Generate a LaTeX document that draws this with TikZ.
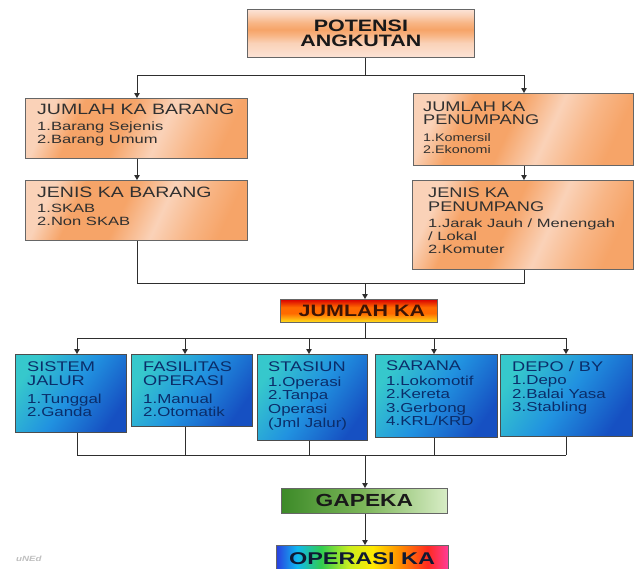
\documentclass[tikz,border=0pt]{standalone}
\usepackage{fontspec}
\setmainfont{Liberation Sans}
\newfontfamily\ftA[FakeStretch=1.30]{Liberation Sans}
\newfontfamily\ftB[FakeStretch=1.38]{Liberation Sans}
\usetikzlibrary{arrows.meta}

\definecolor{pchA}{HTML}{FCE3D6}
\definecolor{pchB}{HTML}{FAD2B8}
\definecolor{orgA}{HTML}{F6A468}
\definecolor{orgB}{HTML}{F8B585}
\definecolor{otxt}{HTML}{303030}
\definecolor{blA}{HTML}{36C8CC}
\definecolor{blB}{HTML}{2192E0}
\definecolor{blC}{HTML}{1650C2}
\definecolor{btxt}{HTML}{0B2D6A}
\definecolor{fireR}{HTML}{D80000}
\definecolor{fireO}{HTML}{FF6A00}
\definecolor{fireY}{HTML}{FFE21A}
\definecolor{grA}{HTML}{3C8A28}
\definecolor{grB}{HTML}{7DB65A}
\definecolor{grC}{HTML}{D8EDC6}
\definecolor{rbA}{HTML}{2A3FE0}
\definecolor{rbB}{HTML}{10B8F0}
\definecolor{rbC}{HTML}{30CC50}
\definecolor{rbD}{HTML}{C8EE20}
\definecolor{rbE}{HTML}{FFE800}
\definecolor{rbF}{HTML}{FF8C00}
\definecolor{rbG}{HTML}{FF2A20}
\definecolor{rbH}{HTML}{FF3C9A}
\definecolor{lnc}{HTML}{2E2E2E}

\pgfdeclarehorizontalshading{peach}{100bp}{color(0bp)=(pchB); color(25bp)=(pchB); color(33bp)=(orgA); color(46bp)=(orgA); color(57bp)=(pchB); color(67bp)=(orgB); color(75bp)=(orgA); color(100bp)=(orgA)}
\pgfdeclareverticalshading{peachv}{100bp}{color(0bp)=(pchA); color(25bp)=(pchA); color(40bp)=(pchB); color(48bp)=(orgB); color(54bp)=(orgA); color(61bp)=(orgB); color(69bp)=(pchB); color(75bp)=(pchA); color(100bp)=(pchA)}
\pgfdeclarehorizontalshading{bluesh}{100bp}{color(0bp)=(blA); color(25bp)=(blA); color(50bp)=(blB); color(75bp)=(blC); color(100bp)=(blC)}
\pgfdeclareverticalshading{firesh}{100bp}{color(0bp)=(fireY); color(25bp)=(fireY); color(45bp)=(fireO); color(58bp)=(fireO); color(75bp)=(fireR); color(100bp)=(fireR)}
\pgfdeclarehorizontalshading{greensh}{100bp}{color(0bp)=(grA); color(25bp)=(grA); color(50bp)=(grB); color(75bp)=(grC); color(100bp)=(grC)}
\pgfdeclarehorizontalshading{rainbow}{100bp}{color(0bp)=(rbA); color(25bp)=(rbA); color(31bp)=(rbB); color(38bp)=(rbC); color(46bp)=(rbD); color(53bp)=(rbE); color(61bp)=(rbF); color(69bp)=(rbG); color(75bp)=(rbH); color(100bp)=(rbH)}

\tikzset{
  boxbase/.style={rectangle, inner sep=0pt, anchor=north west, line width=0.8pt},
  obox/.style={boxbase, draw=black!60, shading=peach, shading angle=-25},
  bbox/.style={boxbase, draw=black!70, shading=bluesh, shading angle=-35},
  otitle/.style={anchor=north west, inner sep=0pt, align=left, text=otxt, font={\ftA\fontsize{15}{13.5}\selectfont}},
  oitem/.style={anchor=north west, inner sep=0pt, align=left, text=otxt, font={\ftB\fontsize{12}{13}\selectfont}},
  btitle/.style={anchor=north west, inner sep=0pt, align=left, text=btxt, font={\ftA\fontsize{14}{13.3}\selectfont}},
  bitem/.style={anchor=north west, inner sep=0pt, align=left, text=btxt, font={\ftA\fontsize{13}{13.4}\selectfont}},
  conn/.style={draw=lnc, line width=0.9pt},
  arr/.style={conn, -{Triangle[length=5pt,width=5.5pt]}}
}

\begin{document}
\begin{tikzpicture}[x=1pt, y=-1pt]
\clip (0,0) rectangle (636,568);
\fill[white] (0,0) rectangle (636,568);

% top box
\node[boxbase, draw=black!60, shading=peachv, minimum width=227, minimum height=48] (pot) at (247,9) {};
\node[inner sep=0pt, align=center, text=black!90, font={\ftA\bfseries\fontsize{16.5}{15.5}\selectfont}] (pottxt) at (pot.center) {POTENSI\\ANGKUTAN};

% orange boxes
\node[obox, minimum width=222, minimum height=60] (jkb) at (25,98) {};
\node[otitle] (jkbt) at (37,104) {JUMLAH KA BARANG};
\node[oitem] (jkbi) at (37,121.5) {1.Barang Sejenis\\2.Barang Umum};

\node[obox, minimum width=222, minimum height=60] (jekb) at (25,180) {};
\node[otitle] (jekbt) at (37,187) {JENIS KA BARANG};
\node[oitem] (jekbi) at (37,203.5) {1.SKAB\\2.Non SKAB};

\node[obox, minimum width=220, minimum height=72] (jkp) at (413,93) {};
\node[otitle, font={\ftA\fontsize{14}{13}\selectfont}] (jkpt) at (423,102) {JUMLAH KA\\PENUMPANG};
\node[oitem, font={\ftA\fontsize{11}{12}\selectfont}] (jkpi) at (423,133.2) {1.Komersil\\2.Ekonomi};

\node[obox, minimum width=221, minimum height=89] (jekp) at (412,180) {};
\node[otitle, font={\ftA\fontsize{14}{14}\selectfont}] (jekpt) at (428,188) {JENIS KA\\PENUMPANG};
\node[oitem, font={\ftB\fontsize{12}{13}\selectfont}] (jekpi) at (428,218.5) {1.Jarak Jauh / Menengah\\/ Lokal\\2.Komuter};

% JUMLAH KA
\node[boxbase, draw=black!60, shading=firesh, minimum width=157, minimum height=23] (jka) at (280,299) {};
\node[inner sep=0pt, text={rgb,255:red,60;green,20;blue,5}, font={\ftA\bfseries\fontsize{16.5}{16}\selectfont}] (jkat) at ([xshift=3pt]jka.center) {JUMLAH KA};

% blue boxes
\node[bbox, minimum width=111, minimum height=78] (sj) at (15,354) {};
\node[btitle] (sjt) at (27,362) {SISTEM\\JALUR};
\node[bitem] (sji) at (27,393.7) {1.Tunggal\\2.Ganda};

\node[bbox, minimum width=121, minimum height=72] (fo) at (131,354) {};
\node[btitle] (fot) at (143,362) {FASILITAS\\OPERASI};
\node[bitem] (foi) at (143,393.7) {1.Manual\\2.Otomatik};

\node[bbox, minimum width=110, minimum height=86] (st) at (257,354) {};
\node[btitle] (stt) at (268,362) {STASIUN};
\node[bitem, font={\ftA\fontsize{13}{13.6}\selectfont}] (sti) at (268,376.7) {1.Operasi\\2.Tanpa\\Operasi\\(Jml Jalur)};

\node[bbox, minimum width=122, minimum height=83] (sa) at (375,354) {};
\node[btitle] (sat) at (386,361) {SARANA};
\node[bitem, font={\ftA\fontsize{13}{13.5}\selectfont}] (sai) at (386,375.7) {1.Lokomotif\\2.Kereta\\3.Gerbong\\4.KRL/KRD};

\node[bbox, minimum width=132, minimum height=82] (dp) at (500,354) {};
\node[btitle] (dpt) at (512,361) {DEPO / BY};
\node[bitem, font={\ftA\fontsize{13}{13.5}\selectfont}] (dpi) at (512,375.7) {1.Depo\\2.Balai Yasa\\3.Stabling};

% GAPEKA and OPERASI KA
\node[boxbase, draw=black!60, shading=greensh, minimum width=166, minimum height=25] (gap) at (281,488) {};
\node[inner sep=0pt, text=black!90, font={\ftA\bfseries\fontsize{17.5}{17}\selectfont}] (gapt) at (gap.center) {GAPEKA};

\node[boxbase, draw=black!60, shading=rainbow, minimum width=172, minimum height=34] (opk) at (276,545) {};
\node[anchor=base, inner sep=0pt, text={rgb,255:red,15;green,25;blue,50}, font={\ftB\bfseries\fontsize{17}{17}\selectfont}] (opkt) at (362,564.5) {OPERASI KA};

% watermark
\node[anchor=base west, inner sep=0pt, text=black!25, font={\ftA\bfseries\itshape\fontsize{7.5}{8}\selectfont}] (wm) at (16,561) {uNEd};

% connectors
\coordinate (ja) at (365,75);
\coordinate (jaL) at (137,75);
\coordinate (jaR) at (524,75);
\draw[conn] (pot.south -| ja) -- (ja);
\draw[conn] (jaL) -- (jaR);
\draw[arr] (jaL) -- (jaL |- jkb.north);
\draw[arr] (jaR) -- (jaR |- jkp.north);
\draw[arr] (jkb.south -| jaL) -- (jaL |- jekb.north);
\draw[arr] (jkp.south -| jaR) -- (jaR |- jekp.north);

\coordinate (jb) at (365,283);
\coordinate (jbL) at (137,283);
\coordinate (jbR) at (524,283);
\draw[conn] (jekb.south -| jbL) -- (jbL) -- (jbR) -- (jekp.south -| jbR);
\draw[arr] (jb) -- (jb |- jka.north);

\coordinate (jc) at (365,338);
\coordinate (c1) at (77,338);
\coordinate (c2) at (185,338);
\coordinate (c3) at (309,338);
\coordinate (c4) at (434,338);
\coordinate (c5) at (566,338);
\draw[conn] (jka.south -| jc) -- (jc);
\draw[conn] (c1) -- (c5);
\draw[arr] (c1) -- (c1 |- sj.north);
\draw[arr] (c2) -- (c2 |- fo.north);
\draw[arr] (c3) -- (c3 |- st.north);
\draw[arr] (c4) -- (c4 |- sa.north);
\draw[arr] (c5) -- (c5 |- dp.north);

\coordinate (jd) at (365,455);
\coordinate (d1) at (77,455);
\coordinate (d2) at (185,455);
\coordinate (d3) at (309,455);
\coordinate (d4) at (434,455);
\coordinate (d5) at (566,455);
\draw[conn] (sj.south -| d1) -- (d1);
\draw[conn] (fo.south -| d2) -- (d2);
\draw[conn] (st.south -| d3) -- (d3);
\draw[conn] (sa.south -| d4) -- (d4);
\draw[conn] (dp.south -| d5) -- (d5);
\draw[conn] (d1) -- (d5);
\draw[arr] (jd) -- (jd |- gap.north);
\draw[arr] (gap.south -| jd) -- (jd |- opk.north);
\end{tikzpicture}
\end{document}
